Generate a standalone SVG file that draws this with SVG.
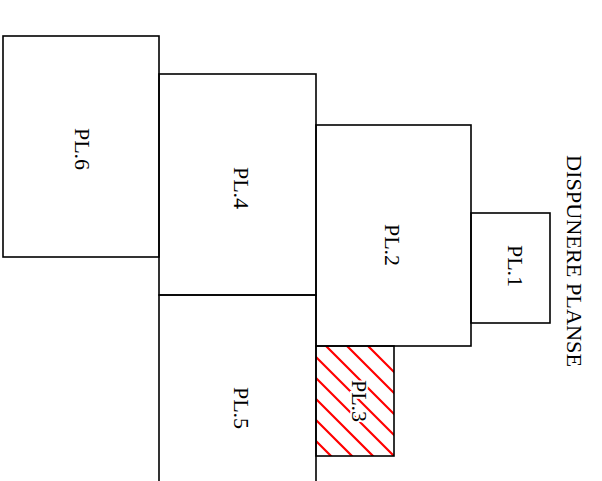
<svg xmlns="http://www.w3.org/2000/svg" width="602" height="481" viewBox="0 0 602 481">
<style>
.plate{fill:none;stroke:#000;stroke-width:1.6}
.lbl{font-family:"Liberation Serif","Times New Roman",serif;font-size:22px;fill:#000;text-anchor:middle}
.hatch{stroke:#ff0000;stroke-width:2.2}
</style>
<defs>
<clipPath id="c3"><rect x="316" y="346" width="78" height="110"/></clipPath>
</defs>
<rect width="602" height="481" fill="#fff"/>
<g id="pl3-hatch" clip-path="url(#c3)">
<path class="hatch" d="M284,346 L424,486 M305,346 L445,486 M326,346 L466,486 M347,346 L487,486 M368,346 L508,486 M263,346 L403,486 M242,346 L382,486 M221,346 L361,486 M200,346 L340,486 M179,346 L319,486 M158,346 L298,486"/>
</g>
<g id="pl6"><rect class="plate" x="3" y="36" width="156" height="221"/><text class="lbl" transform="translate(82,149) rotate(90)" x="0" y="7">PL.6</text></g>
<g id="pl4"><rect class="plate" x="159" y="74" width="157" height="221"/><text class="lbl" transform="translate(241,188) rotate(90)" x="0" y="7">PL.4</text></g>
<g id="pl5"><path class="plate" d="M159,482 V295 H316 V482"/><text class="lbl" transform="translate(241,408) rotate(90)" x="0" y="7">PL.5</text></g>
<g id="pl2"><rect class="plate" x="316" y="125" width="155" height="221"/><text class="lbl" transform="translate(392,245) rotate(90)" x="0" y="7">PL.2</text></g>
<g id="pl1"><rect class="plate" x="471" y="213" width="79" height="110"/><text class="lbl" transform="translate(515,266) rotate(90)" x="0" y="7">PL.1</text></g>
<g id="pl3"><rect class="plate" x="316" y="346" width="78" height="110"/><text class="lbl" transform="translate(359,401) rotate(90)" x="0" y="7" stroke="#fff" stroke-width="4" paint-order="stroke">PL.3</text></g>
<g id="title"><text class="lbl" style="font-size:21px" transform="translate(574,261) rotate(90)" x="0" y="7" textLength="212" lengthAdjust="spacingAndGlyphs">DISPUNERE PLANSE</text></g>
</svg>
